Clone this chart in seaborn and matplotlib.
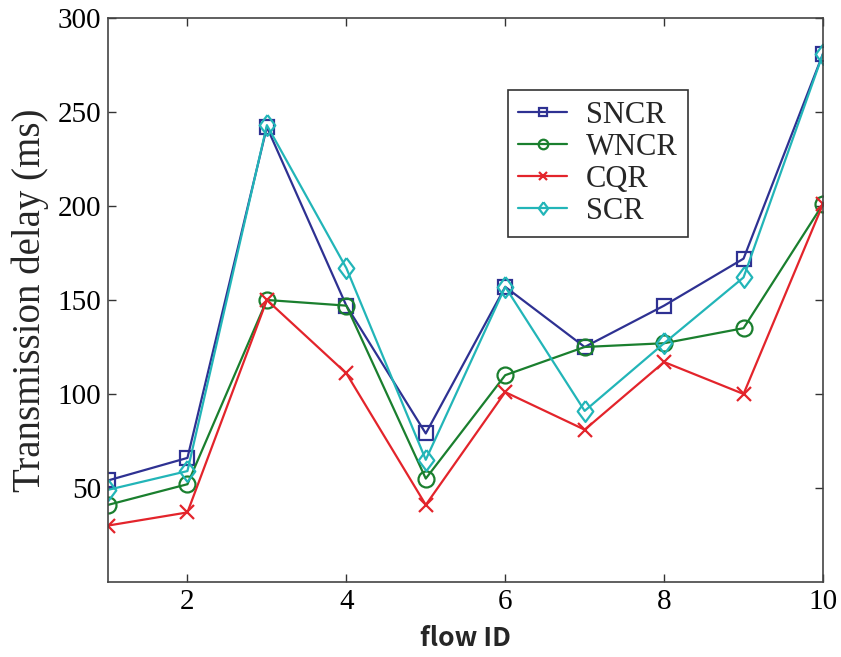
import matplotlib
matplotlib.use("Agg")
import matplotlib.pyplot as plt
import seaborn as sns
import pandas as pd

# Данные
flow_id = [1, 2, 3, 4, 5, 6, 7, 8, 9, 10]
sncr = [54, 66, 242, 147, 79, 157, 125, 147, 172, 281]
wncr = [41, 52, 150, 147, 55, 110, 125, 127, 135, 201]
cqr = [30, 37, 150, 111, 41, 101, 81, 117, 100, 201]
scr = [49, 59, 243, 167, 65, 157, 91, 127, 162, 281]

names = ["SNCR", "WNCR", "CQR", "SCR"]
series = [sncr, wncr, cqr, scr]
colors = ["#2e3192", "#1a7f2e", "#e3242b", "#22b5b8"]
# ромб чуть уже по ширине, как в MATLAB
diamond = [(0, 1), (0.75, 0), (0, -1), (-0.75, 0), (0, 1)]
markers = ["s", "o", "x", diamond]
msizes = [10, 11.5, 10, 15]

sns.set_style("ticks")
plt.rcParams["font.family"] = ["Liberation Serif", "DejaVu Serif"]

fig = plt.figure(figsize=(8.41, 6.57), dpi=100)
ax = fig.add_axes([0.1284, 0.1142, 0.8502, 0.8584])

for name, vals, c, m, ms in zip(names, series, colors, markers, msizes):
    df = pd.DataFrame({"flow": flow_id, "delay": vals})
    sns.lineplot(data=df, x="flow", y="delay", ax=ax, color=c, marker=m,
                 markersize=ms, markerfacecolor="none", markeredgecolor=c,
                 markeredgewidth=1.6, linewidth=1.6, label=name)

ax.set_xlim(1, 10)
ax.set_ylim(0, 300)
ax.set_xticks([2, 4, 6, 8, 10])
ax.set_yticks([50, 100, 150, 200, 250, 300])
ax.tick_params(direction="in", top=True, right=True, labelsize=21, length=6,
               width=1, colors="#333333", labelcolor="black", pad=5)
for s in ax.spines.values():
    s.set_color("#444444")
    s.set_linewidth(1.2)

ax.set_ylabel("Transmission delay (ms)", fontsize=28, labelpad=6)
ax.set_xlabel("flow ID", fontsize=19, fontweight="bold",
              family=["Noto Sans CJK SC", "DejaVu Sans"], labelpad=7)

leg = ax.legend(loc="upper left", bbox_to_anchor=(0.559, 0.872), fontsize=22,
                frameon=True, fancybox=False, edgecolor="black",
                handlelength=1.6, labelspacing=0.1, borderpad=0.35,
                markerscale=0.6, handletextpad=0.6, borderaxespad=0)
leg.get_frame().set_linewidth(1.2)

fig.savefig("out.png", dpi=100)
